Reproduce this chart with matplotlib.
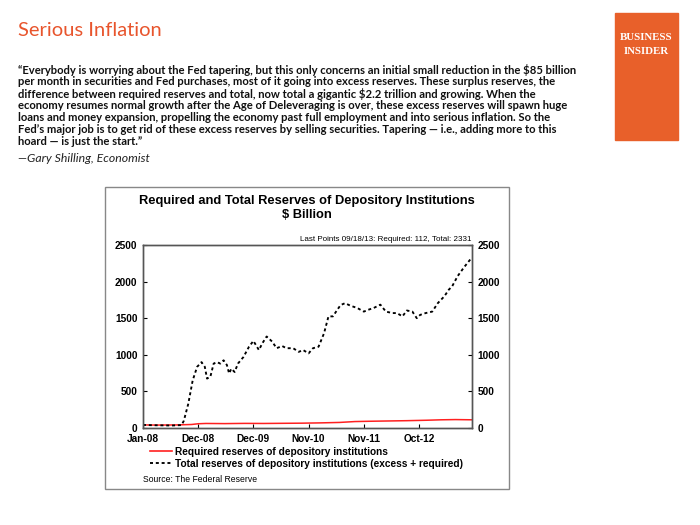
import matplotlib
matplotlib.use("Agg")
import matplotlib.pyplot as plt
from matplotlib.lines import Line2D
from matplotlib.patches import Rectangle
import pandas as pd

# total reserves of depository institutions, $ billion
total_dates = ["2008-01-02", "2008-03-05", "2008-05-07", "2008-07-02", "2008-09-03",
               "2008-09-17", "2008-10-15", "2008-11-12", "2008-12-10", "2009-01-07",
               "2009-01-28", "2009-02-11", "2009-03-04", "2009-03-25", "2009-04-15",
               "2009-05-06", "2009-05-27", "2009-06-17", "2009-07-01", "2009-07-15",
               "2009-08-05", "2009-08-26", "2009-09-30", "2009-11-04", "2009-12-02",
               "2010-01-06", "2010-01-27", "2010-02-24", "2010-03-31", "2010-04-28",
               "2010-06-02", "2010-06-30", "2010-08-11", "2010-09-15", "2010-10-13",
               "2010-11-17", "2010-12-15", "2011-01-19", "2011-02-23", "2011-03-23",
               "2011-04-20", "2011-05-18", "2011-06-08", "2011-07-06", "2011-08-10",
               "2011-09-21", "2011-11-02", "2011-11-30", "2012-01-04", "2012-02-15",
               "2012-03-21", "2012-05-02", "2012-05-30", "2012-07-04", "2012-08-01",
               "2012-09-05", "2012-10-03", "2012-10-24", "2012-11-28", "2013-01-09",
               "2013-02-13", "2013-03-27", "2013-04-24", "2013-05-15", "2013-06-19",
               "2013-07-31", "2013-09-18"]
total_vals = [42, 38, 36, 34, 40,
              100, 330, 650, 835, 900,
              835, 675, 700, 880, 900,
              880, 925, 860, 745, 810,
              765, 880, 970, 1110, 1190,
              1065, 1155, 1250, 1180, 1090,
              1120, 1090, 1090, 1040, 1065,
              1020, 1090, 1110, 1295, 1525,
              1525, 1615, 1680, 1705, 1670,
              1640, 1590, 1615, 1640, 1685,
              1590, 1570, 1570, 1525, 1605,
              1590, 1500, 1545, 1570, 1590,
              1705, 1800, 1890, 1935, 2075,
              2200, 2331]

# required reserves, $ billion
req_dates = ["2008-01-02", "2008-04-02", "2008-08-06", "2008-11-05", "2008-12-17",
             "2009-02-04", "2009-06-03", "2009-10-07", "2010-02-03", "2010-06-02",
             "2010-10-06", "2011-02-02", "2011-06-01", "2011-09-07", "2011-12-07",
             "2012-04-04", "2012-08-01", "2012-12-05", "2013-03-06", "2013-06-05",
             "2013-09-18"]
req_vals = [42, 40, 42, 48, 58,
            62, 60, 63, 62, 64,
            66, 70, 76, 88, 92,
            96, 100, 106, 112, 115,
            112]

tick_labels = ["Jan-08", "Dec-08", "Dec-09", "Nov-10", "Nov-11", "Oct-12"]
y_ticks = [0, 500, 1000, 1500, 2000, 2500]

W, H = 700, 525
fig = plt.figure(figsize=(7, 5.25), dpi=100)

def fx(px):
    return px / W

def fy(py):
    return 1 - py / H

orange = "#E8602A"

# header
fig.text(fx(18), fy(31), "Serious Inflation", color="#E8552D", fontsize=14.5,
         fontfamily="Lato", va="center", ha="left")

quote = [
    "\u201cEverybody is worrying about the Fed tapering, but this only concerns an initial small reduction in the $85 billion",
    "per month in securities and Fed purchases, most of it going into excess reserves. These surplus reserves, the",
    "difference between required reserves and total, now total a gigantic $2.2 trillion and growing. When the",
    "economy resumes normal growth after the Age of Deleveraging is over, these excess reserves will spawn huge",
    "loans and money expansion, propelling the economy past full employment and into serious inflation. So the",
    "Fed\u2019s major job is to get rid of these excess reserves by selling securities. Tapering \u2014 i.e., adding more to this",
    "hoard \u2014 is just the start.\u201d",
]
for i, line in enumerate(quote):
    fig.text(fx(18), fy(70 + 11.9 * i), line, fontsize=8.1, fontweight="bold",
             fontfamily="Lato", va="center", ha="left", color="#111111",
             parse_math=False)
fig.text(fx(18), fy(158), "\u2014Gary Shilling, Economist", fontsize=8.8,
         fontstyle="italic", fontfamily="Lato", va="center", ha="left", color="#222222")

# Business Insider box
fig.patches.append(Rectangle((fx(615), fy(140)), fx(678) - fx(615), fy(13) - fy(140),
                             transform=fig.transFigure, color=orange, zorder=0))
fig.text(fx(646.5), fy(37), "BUSINESS", color="white", fontsize=7.8,
         fontfamily="Liberation Serif", fontweight="bold", ha="center", va="center")
fig.text(fx(646.5), fy(51), "INSIDER", color="white", fontsize=7.8,
         fontfamily="Liberation Serif", fontweight="bold", ha="center", va="center")

# chart frame
fig.patches.append(Rectangle((fx(105), fy(489)), fx(509) - fx(105), fy(187) - fy(489),
                             transform=fig.transFigure, fill=False,
                             edgecolor="#888888", lw=1.0))

chart_font = "Liberation Sans"
fig.text(fx(307), fy(201), "Required and Total Reserves of Depository Institutions",
         fontsize=9.3, fontweight="bold", fontfamily=chart_font, ha="center", va="center")
fig.text(fx(307), fy(215), "$ Billion", fontsize=9.3, fontweight="bold",
         fontfamily=chart_font, ha="center", va="center", parse_math=False)

ax = fig.add_axes([fx(143), fy(428), fx(472) - fx(143), fy(245) - fy(428)])
td = pd.to_datetime(total_dates)
rd = pd.to_datetime(req_dates)
dots = (0, (1.6, 1.5))
ax.plot(rd, req_vals, color="#FF2020", lw=1.1)
ax.plot(td, total_vals, color="black", lw=1.35, linestyle=dots)

start = pd.Timestamp("2008-01-02")
ax.set_xlim(start, pd.Timestamp("2013-09-18"))
ax.set_ylim(0, 2500)
xt = pd.date_range(start, periods=len(tick_labels), freq="350D")
ax.set_xticks(xt)
ax.set_xticklabels(tick_labels)
ax.set_yticks(y_ticks)

ax2 = ax.twinx()
ax2.set_ylim(0, 2500)
ax2.set_yticks(y_ticks)

for a in (ax, ax2):
    a.tick_params(direction="in", length=3, width=0.8, labelsize=7.3, pad=3)
    for lab in a.get_xticklabels() + a.get_yticklabels():
        lab.set_fontweight("bold")
        lab.set_fontfamily(chart_font)
    for s in a.spines.values():
        s.set_color("#555555")
        s.set_linewidth(1.0)
ax.tick_params(axis="x", pad=4)
ax.tick_params(axis="y", pad=4)
ax2.tick_params(axis="y", pad=4)

ax.text(1.0, 1.012, "Last Points 09/18/13: Required: 112, Total: 2331",
        transform=ax.transAxes, ha="right", va="bottom", fontsize=5.8,
        fontfamily=chart_font)

handles = [Line2D([], [], color="#FF2020", lw=1.2),
           Line2D([], [], color="black", lw=1.35, linestyle=dots)]
labels = ["Required reserves of depository institutions",
          "Total reserves of depository institutions (excess + required)"]
fig.legend(handles, labels, loc="upper left", bbox_to_anchor=(fx(150), fy(447)),
           frameon=False, handlelength=2.2, handletextpad=0.3, labelspacing=0.2,
           borderaxespad=0, borderpad=0,
           prop={"family": chart_font, "weight": "bold", "size": 7.3})

fig.text(fx(143), fy(480), "Source: The Federal Reserve", fontsize=6.2,
         fontfamily=chart_font, ha="left", va="center")

fig.savefig("out.png", dpi=100)
